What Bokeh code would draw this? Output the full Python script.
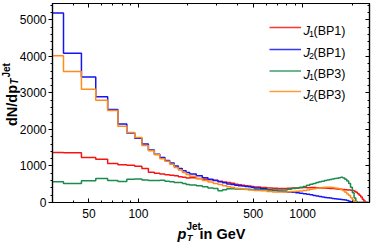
import math
from bokeh.plotting import figure
from bokeh.models import (Range1d, FixedTicker, SingleIntervalTicker, LinearAxis, LogAxis,
                          BoxAnnotation, NumeralTickFormatter)
from bokeh.core.properties import value
from bokeh.embed import file_html
from bokeh.resources import INLINE

# ---------------- data ----------------
# histogram bin edges in GeV (10 GeV bins to 205, 20 GeV bins to 505, 50 GeV bins to 2505)
edges = list(range(25, 205, 10)) + list(range(205, 505, 20)) + list(range(505, 2506, 50))

j1_bp1 = [1370, 1360, 1230, 1185, 1065, 1035, 1020, 990, 930, 830, 800, 780, 760, 745, 730, 705, 690, 670,
          680, 660, 640, 625, 610, 585, 560, 545, 525, 500, 485, 470, 460, 450, 440,
          425, 410, 400, 390, 385, 385, 390, 395, 400, 405, 410, 405, 410, 410, 405, 400, 400, 395, 390, 385,
          380, 375, 370, 365, 360, 355, 350, 345, 340, 335, 330, 310, 280, 240, 200, 150, 90, 40, 10, 0]
j2_bp1 = [5190, 4090, 3440, 2895, 2550, 2150, 1900, 1760, 1600, 1440, 1320, 1230, 1150, 1080, 1000, 930, 870, 820,
          780, 730, 680, 640, 600, 570, 540, 510, 490, 470, 460, 450, 440, 430, 420,
          400, 375, 350, 330, 310, 300, 290, 280, 270, 255, 240, 225, 210, 195, 180, 165, 150, 140, 130, 120,
          110, 100, 95, 88, 82, 76, 70, 55, 35, 18, 5, 0, 0, 0, 0, 0, 0, 0, 0, 0]
j1_bp3 = [566, 520, 594, 660, 600, 575, 635, 645, 615, 605, 600, 610, 580, 565, 550, 545, 520, 495,
          480, 460, 430, 400, 385, 320, 350, 375, 375, 370, 368, 365, 362, 360, 356,
          352, 350, 345, 340, 340, 345, 360, 380, 400, 420, 440, 470, 500, 520, 545, 565, 585, 600, 615, 630,
          645, 655, 665, 680, 690, 670, 640, 590, 520, 420, 270, 120, 30, 0, 0, 0, 0, 0, 0, 0]
j2_bp3 = [4020, 3590, 3100, 2800, 2520, 2090, 1920, 1780, 1560, 1420, 1310, 1200, 1130, 1050, 960, 890, 820, 770,
          720, 650, 600, 560, 520, 490, 460, 430, 410, 390, 380, 370, 355, 345, 340,
          330, 320, 300, 290, 290, 290, 295, 300, 305, 315, 330, 345, 360, 375, 390, 400, 410, 415, 420, 415,
          410, 400, 390, 375, 350, 320, 280, 230, 190, 130, 70, 25, 5, 0, 0, 0, 0, 0, 0, 0]

series = [j1_bp1, j2_bp1, j1_bp3, j2_bp3]
jet_index = ["1", "2", "1", "2"]
bench = ["(BP1)", "(BP1)", "(BP3)", "(BP3)"]
colors = ["#f41515", "#1414f4", "#1b8c50", "#ff8c1a"]

x_ticks = [50, 100, 500, 1000]
x_minor = [30, 40, 60, 70, 80, 90, 200, 300, 400, 600, 700, 800, 900, 2000]

# ---------------- figure ----------------
W, H = 374, 242
FL, FB = 52, 202  # frame left / bottom in canvas px
X0, X1, Y0, Y1 = 30, 2550, 0, 5450

p = figure(width=W, height=H, x_axis_type="log",
           x_range=Range1d(X0, X1), y_range=Range1d(Y0, Y1),
           output_backend="svg", toolbar_location=None,
           min_border_left=FL, min_border_right=5, min_border_top=3, min_border_bottom=H - FB)
p.xgrid.visible = False
p.ygrid.visible = False
p.outline_line_color = "black"
p.outline_line_width = 1.2
p.background_fill_color = "white"
p.border_fill_color = "white"

font = "Liberation Sans"

xa = p.xaxis[0]
xa.ticker = FixedTicker(ticks=x_ticks, minor_ticks=x_minor)
xa.formatter = NumeralTickFormatter(format="0")
xa.major_tick_in = 4
xa.major_tick_out = 0
xa.minor_tick_in = 2
xa.minor_tick_out = 0
xa.major_label_standoff = 6
ya = p.yaxis[0]
ya.ticker = SingleIntervalTicker(interval=1000, num_minor_ticks=5)
ya.major_tick_in = 0
ya.major_tick_out = 4
ya.minor_tick_in = 0
ya.minor_tick_out = 2
ya.major_label_standoff = 2
for ax in (xa, ya):
    ax.major_label_text_font = font
    ax.major_label_text_font_size = "12px"
    ax.major_label_text_color = "black"
    ax.axis_line_color = "black"
    ax.axis_line_width = 1.2
    ax.major_tick_line_color = "black"
    ax.minor_tick_line_color = "black"

ra = LinearAxis(ticker=SingleIntervalTicker(interval=1000, num_minor_ticks=5),
                major_tick_in=4, major_tick_out=0, minor_tick_in=2, minor_tick_out=0,
                major_label_text_font_size="0px", major_label_text_color=None,
                major_label_standoff=0, axis_line_color="black", axis_line_width=1.2)
p.add_layout(ra, "right")
ta = LogAxis(ticker=FixedTicker(ticks=x_ticks, minor_ticks=x_minor),
             major_tick_in=4, major_tick_out=0, minor_tick_in=2, minor_tick_out=0,
             major_label_text_font_size="0px", major_label_text_color=None,
             major_label_standoff=0, axis_line_color="black", axis_line_width=1.2)
p.add_layout(ta, "above")

# ---------------- histograms ----------------
for vals, c in zip(series, colors):
    p.step(x=edges, y=vals + [vals[-1]], mode="after", line_color=c, line_width=1.5)


def lab(text, cx, cy, size, style="normal", angle=0.0):
    # text anchored at the frame's bottom-left corner, shifted by pixel offsets
    p.text(x=[X0], y=[Y0], text=[text], x_offset=cx - FL, y_offset=cy - FB, angle=angle,
           text_font=value(font), text_font_size=value(size), text_font_style=style,
           text_color="black", text_align="left", text_baseline="alphabetic", level="overlay")


# y-axis title: dN/dp_T^Jet (rotated)
rot = math.pi / 2
lab("dN/dp", 11, 125.5, "14.5px", "bold", rot)
lab("T", 14, 84, "10px", "bold italic", rot)
lab("Jet", 5.5, 77, "10px", "bold", rot)

# x-axis title: p_T^Jet in GeV
lab("p", 177, 233, "14.5px", "bold italic")
lab("Jet", 186, 226, "10px", "bold")
lab("T", 186.5, 237.5, "9px", "bold italic")
lab("in GeV", 199, 233, "14.5px", "bold")

# legend
rows = [27, 49, 70.5, 91]
for cy, c, k, b in zip(rows, colors, jet_index, bench):
    p.add_layout(BoxAnnotation(left=269 - FL, right=300.5 - FL, bottom=FB - cy - 0.7, top=FB - cy + 0.7,
                               left_units="screen", right_units="screen",
                               bottom_units="screen", top_units="screen",
                               fill_color=c, fill_alpha=0.85, line_color=None))
    lab("J", 303, cy + 3.2, "13px", "italic")
    lab(k, 308.5, cy + 6.2, "9px")
    lab(b, 313, cy + 3.2, "12.5px")

open("out.html", "w").write(file_html(p, INLINE))
